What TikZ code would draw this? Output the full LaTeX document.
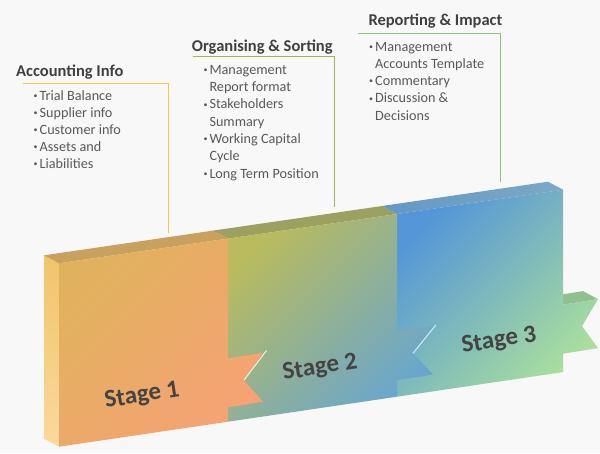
\documentclass[tikz,border=0pt]{standalone}
\usepackage{fontspec}
\setmainfont{Carlito}
\definecolor{bgc}{HTML}{F8F8F8}
\definecolor{headc}{HTML}{404040}
\definecolor{listc}{HTML}{595959}
\definecolor{stagec}{HTML}{444444}
\definecolor{lineA}{HTML}{F2C84B}
\definecolor{lineB}{HTML}{A7AF57}
\definecolor{lineC}{HTML}{8DC37B}
\definecolor{sAtl}{HTML}{E1B25E}
\definecolor{sAbr}{HTML}{F6A274}
\definecolor{sBtl}{HTML}{B9BB5E}
\definecolor{sBbr}{HTML}{69A6CE}
\definecolor{sCtl}{HTML}{5496D8}
\definecolor{sCbr}{HTML}{AADF9D}
\definecolor{sideT}{HTML}{F1C46C}
\definecolor{sideB}{HTML}{FBD99C}
\definecolor{topA}{HTML}{C9A15E}
\definecolor{topB}{HTML}{9CA15F}
\definecolor{topCl}{HTML}{6398C6}
\definecolor{topCr}{HTML}{7CA9C4}
\definecolor{ribtop}{HTML}{8EC18F}
\definecolor{hlB}{HTML}{EEF3DA}
\definecolor{hlC}{HTML}{C9EDF8}
\newcommand\headfnt{\fontsize{16.5}{20}\selectfont\bfseries}
\newcommand\listfnt{\fontsize{14.2}{17}\selectfont}
\newcommand\stagefnt{\fontsize{25}{30}\selectfont\bfseries}
\newcommand\bdot{\makebox[0pt][r]{\fontsize{8}{8}\selectfont\raisebox{0.45ex}{•}\hspace{2pt}}}
\begin{document}
\begin{tikzpicture}[x=1pt,y=-1pt,
  headlbl/.style={anchor=base west,inner sep=0pt,text=headc,font=\headfnt},
  litem/.style={anchor=base west,inner sep=0pt,text=listc,font=\listfnt},
  stagelbl/.style={inner sep=0pt,text=stagec,font=\stagefnt,rotate=9},
  connA/.style={draw=lineA,line width=1pt},
  connB/.style={draw=lineB,line width=1pt},
  connC/.style={draw=lineC,line width=1pt}]
\useasboundingbox (0,0) rectangle (600,453);
\fill[bgc] (0,0) rectangle (600,453);

% ---- 3D bar ----
% left side face
\path[top color=sideT,bottom color=sideB] (59,263.3) -- (44,255.3) -- (44,438.7) -- (59,446.7) -- cycle;
% top faces
\fill[topA] (59,263.3) -- (228,238.6) -- (213,230.6) -- (44,255.3) -- cycle;
\fill[topB] (228,238.6) -- (397,214.0) -- (382,206.0) -- (213,230.6) -- cycle;
\path[left color=topCl,right color=topCr] (397,214.0) -- (563,189.7) -- (548,181.7) -- (382,206.0) -- cycle;
% stage 3 ribbon top face
\fill[ribtop] (563,304.7) -- (598,299.1) -- (583,291.1) -- (563,294.3) -- cycle;
% stage 3 front
\path[top color=sCtl,bottom color=sCbr,shading angle=45]
  (397,214.0) -- (563,189.7) -- (563,304.7) -- (598,299.1) -- (582,326.2)
  -- (598,348.1) -- (563,353.7) -- (563,372.1) -- (397,396.7) -- cycle;
% stage 2 front
\path[top color=sBtl,bottom color=sBbr,shading angle=45]
  (228,238.6) -- (397,214.0) -- (397,331.3) -- (433,325.5) -- (413,353.2)
  -- (433,374.5) -- (397,380.3) -- (397,396.7) -- (228,421.7) -- cycle;
% stage 1 front
\path[top color=sAtl,bottom color=sAbr,shading angle=45]
  (59,263.3) -- (228,238.6) -- (228,358.3) -- (263,352.7) -- (244,380.2)
  -- (263,401.7) -- (228,407.3) -- (228,421.7) -- (59,446.7) -- cycle;
% highlights
\draw[hlB,line width=1pt] (244,380.2) -- (266.5,350.5);
\draw[hlC,line width=1pt] (413,353.2) -- (436,324.8);

% stage labels
\node[stagelbl] (s1) at (142,396) {Stage 1};
\node[stagelbl] (s2) at (320,368) {Stage 2};
\node[stagelbl] (s3) at (499,341) {Stage 3};

% ---- headings and lists ----
\node[headlbl] (h1) at (16,76) {Accounting Info};
\node[litem] (a1) at (39.5,100) {\bdot Trial Balance};
\node[litem] (a2) at (39.5,117) {\bdot Supplier info};
\node[litem] (a3) at (39.5,134) {\bdot Customer info};
\node[litem] (a4) at (39.5,151) {\bdot Assets and};
\node[litem] (a5) at (39.5,168) {\bdot Liabilities};

\node[headlbl] (h2) at (191.7,51) {Organising \& Sorting};
\node[litem] (b1) at (209.3,74.3) {\bdot Management};
\node[litem] (b2) at (209.3,91.6) {Report format};
\node[litem] (b3) at (209.3,108.9) {\bdot Stakeholders};
\node[litem] (b4) at (209.3,126.2) {Summary};
\node[litem] (b5) at (209.3,143.5) {\bdot Working Capital};
\node[litem] (b6) at (209.3,160.8) {Cycle};
\node[litem] (b7) at (209.3,178.1) {\bdot Long Term Position};

\node[headlbl] (h3) at (368.3,25.7) {Reporting \& Impact};
\node[litem] (c1) at (375,51) {\bdot Management};
\node[litem] (c2) at (375,68.3) {Accounts Template};
\node[litem] (c3) at (375,85.6) {\bdot Commentary};
\node[litem] (c4) at (375,102.9) {\bdot Discussion \&};
\node[litem] (c5) at (375,120.2) {Decisions};

% connectors
\coordinate (pA0) at (23.3,83.3);
\coordinate (pA1) at (168.3,83.3);
\coordinate (pA2) at (168.3,233);
\coordinate (pB0) at (193.3,56.7);
\coordinate (pB1) at (334,56.7);
\coordinate (pB2) at (334,207);
\coordinate (pC0) at (358.3,33.3);
\coordinate (pC1) at (500.7,33.3);
\coordinate (pC2) at (500.7,181.7);
\draw[connA] (pA0) -- (pA1) -- (pA2);
\draw[connB] (pB0) -- (pB1) -- (pB2);
\draw[connC] (pC0) -- (pC1) -- (pC2);
\end{tikzpicture}
\end{document}
